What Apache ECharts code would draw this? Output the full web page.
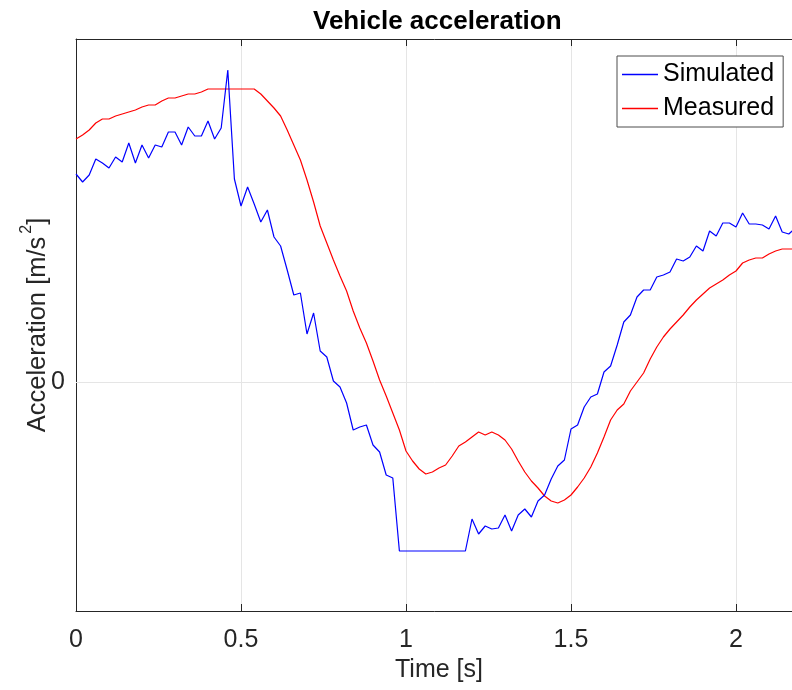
<!DOCTYPE html>
<html>
<head>
<meta charset="utf-8">
<script src="https://cdn.jsdelivr.net/npm/echarts@6/dist/echarts.min.js"></script>
<style>
html,body{margin:0;padding:0;background:#fff;}
#chart{width:792px;height:690px;}
</style>
</head>
<body>
<div id="chart"></div>
<script>
// Time samples [s]
var timeS = [
  0.00,0.02,0.04,0.06,0.08,0.10,0.12,0.14,0.16,0.18,
  0.20,0.22,0.24,0.26,0.28,0.30,0.32,0.34,0.36,0.38,
  0.40,0.42,0.44,0.46,0.48,0.50,0.52,0.54,0.56,0.58,
  0.60,0.62,0.64,0.66,0.68,0.70,0.72,0.74,0.76,0.78,
  0.80,0.82,0.84,0.86,0.88,0.90,0.92,0.94,0.96,0.98,
  1.00,1.02,1.04,1.06,1.08,1.10,1.12,1.14,1.16,1.18,
  1.20,1.22,1.24,1.26,1.28,1.30,1.32,1.34,1.36,1.38,
  1.40,1.42,1.44,1.46,1.48,1.50,1.52,1.54,1.56,1.58,
  1.60,1.62,1.64,1.66,1.68,1.70,1.72,1.74,1.76,1.78,
  1.80,1.82,1.84,1.86,1.88,1.90,1.92,1.94,1.96,1.98,
  2.00,2.02,2.04,2.06,2.08,2.10,2.12,2.14,2.16,2.18
];

// Simulated acceleration
var simulated = [
  2.08,2.00,2.07,2.23,2.19,2.14,2.25,2.20,2.39,2.19,
  2.37,2.24,2.37,2.35,2.50,2.50,2.37,2.55,2.46,2.46,
  2.61,2.43,2.54,3.12,2.03,1.76,1.95,1.78,1.60,1.72,
  1.45,1.36,1.12,0.87,0.89,0.48,0.69,0.31,0.25,0.01,
  -0.05,-0.21,-0.48,-0.45,-0.43,-0.63,-0.70,-0.93,-0.96,-1.69,
  -1.69,-1.69,-1.69,-1.69,-1.69,-1.69,-1.69,-1.69,-1.69,-1.69,
  -1.37,-1.52,-1.44,-1.47,-1.46,-1.33,-1.49,-1.33,-1.27,-1.35,
  -1.19,-1.13,-0.97,-0.84,-0.78,-0.47,-0.43,-0.25,-0.15,-0.12,
  0.10,0.16,0.37,0.60,0.67,0.85,0.92,0.92,1.05,1.07,
  1.10,1.23,1.21,1.25,1.36,1.31,1.51,1.46,1.59,1.59,
  1.55,1.69,1.58,1.58,1.57,1.53,1.66,1.50,1.48,1.54
];

// Measured acceleration
var measured = [
  2.43,2.47,2.52,2.59,2.63,2.63,2.66,2.68,2.70,2.72,
  2.75,2.77,2.77,2.81,2.84,2.84,2.86,2.88,2.88,2.90,
  2.93,2.93,2.93,2.93,2.93,2.93,2.93,2.93,2.88,2.81,
  2.74,2.66,2.52,2.37,2.22,2.02,1.80,1.56,1.39,1.22,
  1.06,0.91,0.71,0.54,0.39,0.21,0.02,-0.14,-0.31,-0.48,
  -0.69,-0.79,-0.87,-0.92,-0.90,-0.86,-0.83,-0.74,-0.64,-0.60,
  -0.55,-0.50,-0.53,-0.50,-0.53,-0.58,-0.67,-0.79,-0.90,-0.99,
  -1.06,-1.14,-1.19,-1.21,-1.18,-1.13,-1.05,-0.96,-0.85,-0.71,
  -0.55,-0.38,-0.28,-0.22,-0.09,0.00,0.09,0.23,0.35,0.45,
  0.53,0.60,0.67,0.75,0.82,0.88,0.94,0.98,1.02,1.07,
  1.11,1.19,1.22,1.24,1.24,1.28,1.31,1.33,1.33,1.33
];

var xTickLabels = [0, 0.5, 1, 1.5, 2];
var yTicks = [0];

function pairs(xs, ys) {
  var out = [];
  for (var i = 0; i < xs.length; i++) out.push([xs[i], ys[i]]);
  return out;
}

var FONT = '"Liberation Sans", Arial, Helvetica, sans-serif';
var AX = '#262626';
var GRIDC = '#e5e5e5';

var chart = echarts.init(document.getElementById('chart'), null, {renderer: 'canvas'});
chart.setOption({
  animation: false,
  backgroundColor: '#ffffff',
  textStyle: {fontFamily: FONT},
  title: {
    text: 'Vehicle acceleration',
    left: 313, top: 9, padding: 0,
    textStyle: {fontFamily: FONT, fontSize: 26, fontWeight: 'bold', color: '#000'}
  },
  legend: {
    orient: 'vertical',
    left: 617, top: 56,
    padding: [6, 9, 6, 5],
    itemGap: 9,
    itemWidth: 36,
    itemHeight: 1.3,
    icon: 'rect',
    borderColor: '#4d4d4d',
    borderWidth: 1,
    backgroundColor: '#fff',
    textStyle: {fontFamily: FONT, fontSize: 25, color: '#000', lineHeight: 25},
    data: ['Simulated', 'Measured']
  },
  grid: {left: 76, top: 39, right: -10, bottom: 79, containLabel: false, outerBoundsMode: 'none'},
  xAxis: [{
    type: 'value', min: 0, max: 2.2, interval: 0.5, position: 'bottom',
    name: 'Time [s]', nameLocation: 'middle', nameGap: 47, nameMoveOverlap: false,
    nameTextStyle: {fontFamily: FONT, fontSize: 25, color: AX},
    axisLine: {show: true, onZero: false, lineStyle: {color: AX, width: 1}},
    axisTick: {show: true, inside: true, length: 7, lineStyle: {color: AX}},
    axisLabel: {
      show: true, margin: 17, fontFamily: FONT, fontSize: 25, color: AX,
      formatter: function (v) {
        for (var i = 0; i < xTickLabels.length; i++) {
          if (Math.abs(xTickLabels[i] - v) < 1e-6) return String(xTickLabels[i]);
        }
        return '';
      }
    },
    splitLine: {show: true, lineStyle: {color: GRIDC, width: 1}}
  }, {
    type: 'value', min: 0, max: 2.2, interval: 0.5, position: 'top',
    axisLine: {show: true, onZero: false, lineStyle: {color: AX, width: 1}},
    axisTick: {show: true, inside: true, length: 7, lineStyle: {color: AX}},
    axisLabel: {show: false},
    splitLine: {show: false}
  }],
  yAxis: {
    type: 'value', min: -2.29, max: 3.43,
    name: '{m|Acceleration [m/s}{s|2}{m|]}', nameLocation: 'middle', nameGap: 25, nameMoveOverlap: false,
    nameTextStyle: {
      fontFamily: FONT, fontSize: 25.5, color: AX,
      rich: {
        m: {fontFamily: FONT, fontSize: 25.5, color: AX, verticalAlign: 'bottom'},
        s: {fontFamily: FONT, fontSize: 16, color: AX, verticalAlign: 'top', padding: [0, 0, 16, 3]}
      }
    },
    axisLine: {show: true, onZero: false, lineStyle: {color: AX, width: 1}},
    axisTick: {show: true, inside: true, length: 7, lineStyle: {color: AX}, customValues: yTicks},
    axisLabel: {show: true, margin: 11, fontFamily: FONT, fontSize: 25, color: AX, customValues: yTicks},
    splitLine: {show: false}
  },
  series: [{
    name: 'Simulated', type: 'line', xAxisIndex: 0,
    symbol: 'none', smooth: false,
    lineStyle: {color: '#0000ff', width: 1.2},
    itemStyle: {color: '#0000ff'},
    data: pairs(timeS, simulated),
    z: 3
  }, {
    name: 'Measured', type: 'line', xAxisIndex: 0,
    symbol: 'none', smooth: false,
    lineStyle: {color: '#ff0000', width: 1.2},
    itemStyle: {color: '#ff0000'},
    data: pairs(timeS, measured),
    z: 2,
    markLine: {
      silent: true, symbol: 'none', z: 1,
      label: {show: false},
      lineStyle: {color: GRIDC, width: 1, type: 'solid'},
      data: yTicks.map(function (v) { return {yAxis: v}; })
    }
  }]
});
</script>
</body>
</html>
